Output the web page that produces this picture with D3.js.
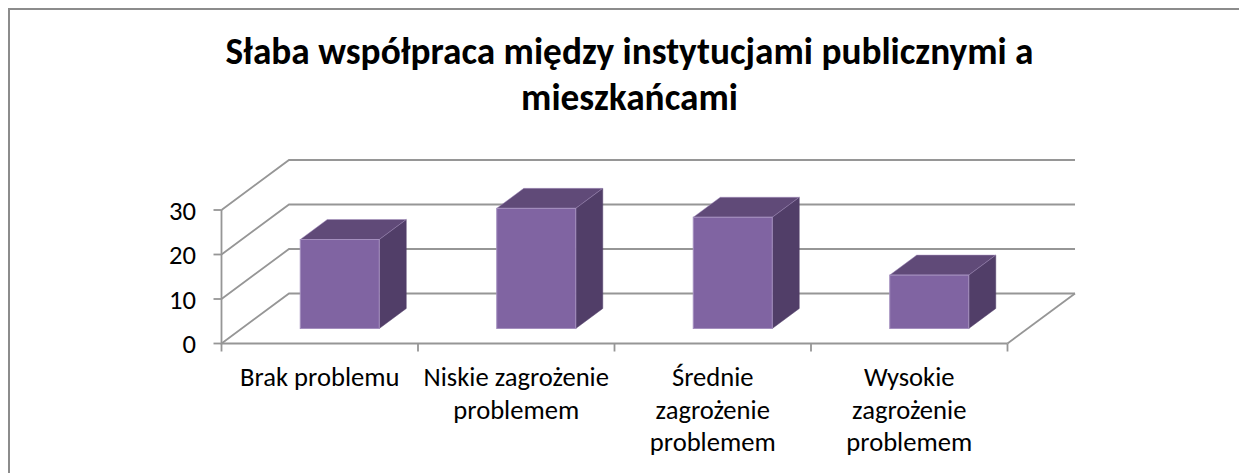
<!DOCTYPE html>
<html><head><meta charset="utf-8">
<script src="https://cdn.jsdelivr.net/npm/d3@7"></script>
<style>html,body{margin:0;padding:0;background:#fff}svg{display:block}</style></head>
<body><svg id="c" width="1239" height="473"></svg>
<script>
const titleLines = ["Słaba współpraca między instytucjami publicznymi a", "mieszkańcami"];
const categories = ["Brak problemu", "Niskie zagrożenie problemem", "Średnie zagrożenie problemem", "Wysokie zagrożenie problemem"];
const categoryLines = [["Brak problemu"], ["Niskie zagrożenie", "problemem"], ["Średnie", "zagrożenie", "problemem"], ["Wysokie", "zagrożenie", "problemem"]];
const values = [20, 27, 25, 12];
const yTicks = [0, 10, 20, 30];

const svg = d3.select("#c");
const font = "Carlito, 'Open Sans', 'Noto Sans', sans-serif";
const grid = "#969696";
const frontFill = "#8064A2", topFill = "#604A78", sideFill = "#513E68", edge = "#A48FBE";

svg.append("path").attr("d","M9 473V9H1239").attr("fill","none").attr("stroke","#8c8c8c").attr("stroke-width",2);

svg.selectAll("text.title").data(titleLines).join("text").attr("class","title")
  .attr("x",629.5).attr("y",(d,i)=>64+i*46).attr("text-anchor","middle")
  .attr("font-family",font).attr("font-weight",700).attr("font-size",37.3).attr("fill","#000").text(d=>d);

const x = d3.scaleBand().domain(categories).range([221.5,1007.5]).paddingInner(0).paddingOuter(0);
const y = d3.scaleLinear().domain([0,30]).range([343.5,210]);
const dx = 67.5, dy = -50;
const frontBase = 328.5;
const barW = 79;
const barDx = 27, barDy = -20;
const barShift = 20;
const yBar = v => frontBase - (y(0)-y(v));

const g = svg.append("g").attr("fill","none").attr("stroke",grid).attr("stroke-width",1.8);
yTicks.forEach(t=>{
  g.append("path").attr("d",`M${x.range()[0]} ${y(t)}l${dx} ${dy}H${x.range()[1]+dx}`);
});
g.append("path").attr("d",`M${x.range()[1]} ${y(0)}l${dx} ${dy}`);
g.append("path").attr("d",`M${x.range()[0]} ${y(30)}V${y(0)}H${x.range()[1]}`);
yTicks.forEach(t=>g.append("path").attr("d",`M${x.range()[0]-8} ${y(t)}h8`));
const bounds = categories.map(c=>x(c)).concat(x.range()[1]);
bounds.forEach(b=>g.append("path").attr("d",`M${b} ${y(0)}v8`));

svg.selectAll("text.yt").data(yTicks).join("text").attr("class","yt")
  .attr("x",196).attr("y",d=>y(d)+9.5).attr("text-anchor","end")
  .attr("font-family",font).attr("font-size",26.6).attr("fill","#000").text(d=>d);

const bars = svg.selectAll("g.bar").data(values).join("g").attr("class","bar");
const bx = (d,i)=>x(categories[i])+ x.bandwidth()/2 - barW/2 + barShift;
bars.append("path").attr("fill",sideFill).attr("stroke",sideFill).attr("stroke-width",.5)
  .attr("d",(d,i)=>{const X=bx(d,i)+barW,T=yBar(d);return `M${X} ${T}l${barDx} ${barDy}V${frontBase+barDy}L${X} ${frontBase}Z`;});
bars.append("path").attr("fill",topFill).attr("stroke",edge).attr("stroke-width",.5)
  .attr("d",(d,i)=>{const X=bx(d,i),T=yBar(d);return `M${X} ${T}l${barDx} ${barDy}h${barW}l${-barDx} ${-barDy}Z`;});
bars.append("rect").attr("fill",frontFill).attr("stroke",edge).attr("stroke-width",1)
  .attr("x",bx).attr("y",d=>yBar(d)).attr("width",barW).attr("height",d=>frontBase-yBar(d));

categories.forEach((c,i)=>{
  svg.selectAll(null).data(categoryLines[i]).join("text")
    .attr("x",x(c)+x.bandwidth()/2).attr("y",(d,j)=>386+j*32.5).attr("text-anchor","middle")
    .attr("font-family",font).attr("font-size",26.6).attr("fill","#000").text(d=>d);
});
</script></body></html>
